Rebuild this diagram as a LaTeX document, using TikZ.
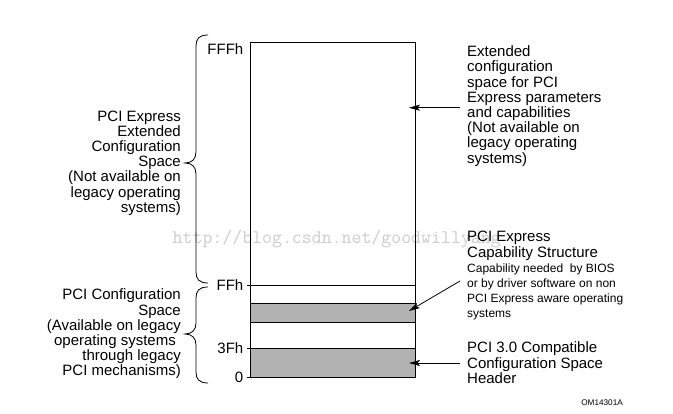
\documentclass[tikz,border=0pt]{standalone}
\usepackage{fontspec}
\setmainfont{Liberation Sans}
\usetikzlibrary{arrows.meta}

\tikzset{
  pointer/.style={-{Stealth[length=11pt,width=6pt,inset=2.5pt]}, line width=0.8pt},
  band/.style={fill=gray!60, draw=black, line width=0.8pt},
  addr/.style={anchor=east, inner sep=0pt, font=\fontsize{15}{15.2}\selectfont},
  note/.style={anchor=west, inner xsep=7pt, inner ysep=0pt, align=left, font=\fontsize{15}{15.2}\selectfont},
  side/.style={anchor=east, inner sep=0pt, align=right, font=\fontsize{15}{15.2}\selectfont},
}

\begin{document}
\begin{tikzpicture}[x=1pt,y=1pt]
\useasboundingbox (0,0) rectangle (673,414);
% watermark
\node[anchor=base west, inner sep=0pt, text=black!20, font=\ttfamily\fontsize{19.3}{20}\selectfont] (wm) at (172.5,170.7) {http://blog.csdn.net/goodwillyang};
% memory map
\draw[line width=0.8pt] (250.5,37) rectangle (415.5,371.5);
\draw[band] (250.5,91.7) rectangle (415.5,110.7);
\draw[band] (250.5,37) rectangle (415.5,65.7);
\draw[line width=0.8pt] (247,128.7) -- (415.5,128.7);
\draw[line width=0.8pt] (247,65.7) -- (250.5,65.7);
\draw[line width=0.8pt] (247,37) -- (250.5,37);
\node[addr] (fffh) at (243.5,365) {FFFh};
\node[addr] (ffh) at (243.5,128.7) {FFh};
\node[addr] (x3fh) at (243.5,65.7) {3Fh};
\node[addr] (zero) at (243.5,37) {0};
% braces
\draw[line width=0.8pt] (208,379) .. controls (199,379) and (196,375) .. (196,368) -- (196,262)
  .. controls (196,255) and (192,251) .. (185,251) .. controls (192,251) and (196,247) .. (196,240)
  -- (196,142) .. controls (196,135) and (199,131) .. (208,131);
\draw[line width=0.8pt] (208,127) .. controls (199,127) and (196,123) .. (196,116) -- (196,91)
  .. controls (196,84) and (192,80) .. (185,80) .. controls (192,80) and (196,76) .. (196,69)
  -- (196,42) .. controls (196,35) and (199,31) .. (208,31);
\node[side] (extspace) at (181,251) {PCI Express\\Extended\\Configuration\\Space\\(Not available on\\legacy operating\\systems)};
\node[side] (cfgspace) at (181,80) {PCI Configuration\\Space\\(Available on legacy\\operating systems\kern5pt\\through legacy\\PCI mechanisms)};
% notes on the right
\node[note] (ext) at (460,308) {Extended\\configuration\\space for PCI\\Express parameters\\and capabilities\\(Not available on\\legacy operating\\systems)};
\node[note, font=\fontsize{15}{16.7}\selectfont] (capT) at (460,168.3) {PCI Express\\Capability Structure};
\node[note, font=\fontsize{12}{15}\selectfont] (capD) at (460,122.3) {Capability needed~ by BIOS\\or by driver software on non\\PCI Express aware operating\\systems};
\node[note] (hdr) at (460,51.3) {PCI 3.0 Compatible\\Configuration Space\\Header};
\node[anchor=east, inner sep=0pt, font=\fontsize{8.2}{9}\selectfont] (fig) at (623,11) {OM14301A};
\coordinate (extTip) at (409,306.3);
\coordinate (capTip) at (409,103);
\coordinate (hdrTip) at (409,51);
\draw[pointer] (ext.west |- extTip) -- (extTip);
\draw[pointer] ([yshift=10.7pt]capD.west) -- (capTip);
\draw[pointer] (hdr.west |- hdrTip) -- (hdrTip);
\end{tikzpicture}
\end{document}
